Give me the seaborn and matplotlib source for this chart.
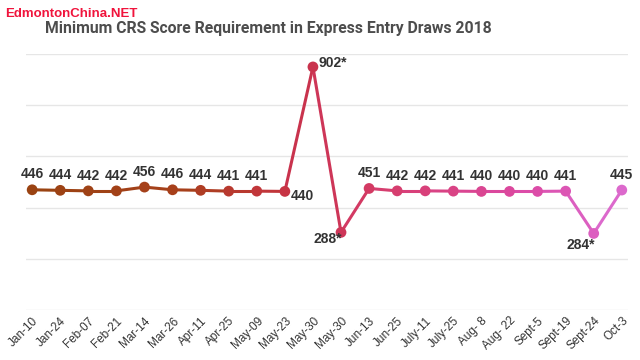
import matplotlib
matplotlib.use('Agg')
import matplotlib.pyplot as plt
import numpy as np
import pandas as pd
import seaborn as sns
from matplotlib.colors import LinearSegmentedColormap

# Express Entry draws 2018 - minimum CRS score
draw_dates = ['Jan-10', 'Jan-24', 'Feb-07', 'Feb-21', 'Mar-14', 'Mar-26', 'Apr-11',
              'Apr-25', 'May-09', 'May-23', 'May-30', 'May-30', 'Jun-13', 'Jun-25',
              'July-11', 'July-25', 'Aug- 8', 'Aug- 22', 'Sept-5', 'Sept-19',
              'Sept-24', 'Oct-3']
crs_scores = [446, 444, 442, 442, 456, 446, 444, 441, 441, 440, 902, 288,
              451, 442, 442, 441, 440, 440, 440, 441, 284, 445]
score_labels = ['446', '444', '442', '442', '456', '446', '444', '441', '441', '440',
                '902*', '288*', '451', '442', '442', '441', '440', '440', '440',
                '441', '284*', '445']

df = pd.DataFrame({'draw': np.arange(len(crs_scores)), 'score': crs_scores,
                   'label': score_labels})

# colour runs brown -> red -> pink along the draws
cmap = LinearSegmentedColormap.from_list(
    'crs', [(0.0, '#9a4312'), (0.25, '#a8401c'), (0.40, '#c5343f'),
            (0.50, '#cb3352'), (0.60, '#d63d6a'), (0.85, '#dc4aa6'),
            (1.0, '#dc69cc')])
n = len(df)
cols = [cmap(i / (n - 1)) for i in range(n)]

fig = plt.figure(figsize=(6.4, 3.6), dpi=100)
ax = fig.add_axes([0.0406, 0.139, 0.9406, 0.711])
sns.set_style('white')

for i in range(n - 1):
    seg = df.iloc[i:i + 2]
    sns.lineplot(data=seg, x='draw', y='score', ax=ax, color=cols[i + 1] if i >= 9 else cols[i],
                 linewidth=2.2, legend=False)
sns.scatterplot(data=df, x='draw', y='score', hue='draw', palette=cols, ax=ax,
                s=60, edgecolor='none', legend=False, zorder=3)

# label placement: (dx, dy, ha, va) in points
special = {9: (4, -3, 'left', 'center'), 10: (4, 3, 'left', 'center'),
           11: (1, -5, 'right', 'center'), 20: (1, -8, 'right', 'center')}
for i, row in df.iterrows():
    dx, dy, ha, va = special.get(i, (0, 6, 'center', 'bottom'))
    ax.annotate(row['label'], (row['draw'], row['score']), xytext=(dx, dy),
                textcoords='offset points', ha=ha, va=va, fontsize=10,
                fontweight='bold', color='#333333', family='Liberation Sans')

ax.set_ylim(0, 950)
ax.set_xlim(-0.22, n - 1 + 0.22)
ax.set_yticks(np.arange(0, 951, 190))
ax.set_yticklabels([])
ax.grid(axis='y', color='#e6e6e6', linewidth=1)
ax.set_axisbelow(True)
ax.tick_params(axis='both', length=0)
ax.set_xticks(df['draw'])
ax.set_xticklabels(draw_dates, rotation=45, ha='right', rotation_mode='anchor',
                   fontsize=8.5, color='#333333', family='Liberation Sans')
ax.set_xlabel('')
ax.set_ylabel('')
for s in ax.spines.values():
    s.set_visible(False)

fig.text(0.419, 0.922, 'Minimum CRS Score Requirement in Express Entry Draws 2018',
         ha='center', va='center', fontsize=11.3, fontweight='bold', color='#4d4d4d',
         family='Roboto')
fig.text(0.008, 0.962, 'EdmontonChina.NET', ha='left', va='center', fontsize=9.5,
         fontweight='bold', color='#f0143c', family='Liberation Sans')

fig.savefig('out.png', dpi=100)
